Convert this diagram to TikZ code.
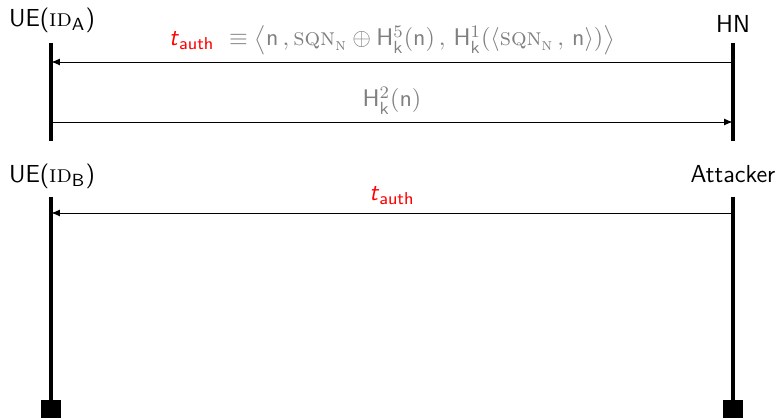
\documentclass[tikz,border=0pt]{standalone}
\usepackage{amsmath,amssymb}
\usepackage{xcolor}
\usepackage{tikz}
\usetikzlibrary{arrows, positioning, calc}
\renewcommand{\familydefault}{\sfdefault}
\newcommand{\idsc}[1]{\textrm{\textsc{id}}$_{\mathsf{#1}}$}
\newcommand{\sqn}{\textrm{\textsc{sqn}}_{\textrm{\textsc{n}}}}
\newcommand{\hk}[1]{\mathsf{H}_{\mathsf{k}}^{#1}}
\newcommand{\tauth}{\textcolor{red}{$\textsf{\textit{t}}_{\textsf{auth}}$}}

\begin{document}
\begin{tikzpicture}[
    x=0.016cm, y=-0.016cm,
    every node/.style={font=\fontsize{11.2}{13}\selectfont},
    party/.style={inner sep=0pt, anchor=base},
    lifeline/.style={line width=1.6pt},
    msg/.style={thin,-latex},
    msglabel/.style={text=gray, inner sep=0pt, anchor=base},
    endbox/.style={rectangle, fill=black, inner sep=0pt, minimum width=0.32cm, minimum height=0.29cm}
  ]
  \useasboundingbox (0,0) rectangle (778,418);

  % first run
  \node (UEA) [party] at (52,27)  {UE(\idsc{A})};
  \node (HN)  [party] at (733,33) {HN};
  \coordinate (UEAtop) at (51,43);
  \coordinate (UEAbot) at (51,141);
  \coordinate (HNtop)  at (733,43);
  \coordinate (HNbot)  at (733,141);
  \draw [lifeline] (UEAtop) -- (UEAbot);
  \draw [lifeline] (HNtop) -- (HNbot);

  \coordinate (m1a) at (51,62);   \coordinate (m1h) at (733,62);
  \coordinate (m2a) at (51,122);  \coordinate (m2h) at (733,122);
  \draw [msg] (m1h) -- (m1a);
  \draw [msg] (m2a) -- (m2h);
  \node (L1) [msglabel] at (392,46)
    {\tauth\ $\;\equiv \big\langle \mathsf{n}\,, \sqn \oplus \hk{5}(\mathsf{n})\,,\, \hk{1}(\langle \sqn\,,\,\mathsf{n}\rangle)\big\rangle$};
  \node (L2) [msglabel] at (392,107) {$\hk{2}(\mathsf{n})$};

  % second run
  \node (UEB) [party] at (52,183)  {UE(\idsc{B})};
  \node (ATK) [party] at (733,183) {Attacker};
  \coordinate (UEBtop) at (51,197);
  \coordinate (ATKtop) at (733,197);
  \node (UEBend) [endbox] at (51,409) {};
  \node (ATKend) [endbox] at (733,409) {};
  \draw [lifeline] (UEBtop) -- (UEBend.north);
  \draw [lifeline] (ATKtop) -- (ATKend.north);

  \coordinate (m3a) at (51,213);  \coordinate (m3h) at (733,213);
  \draw [msg] (m3h) -- (m3a);
  \node (L3) [msglabel] at (392,201) {\tauth};
\end{tikzpicture}
\end{document}
